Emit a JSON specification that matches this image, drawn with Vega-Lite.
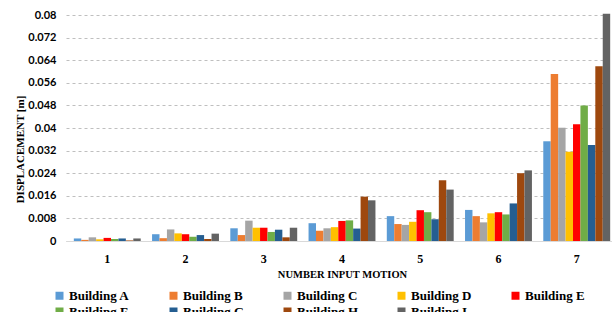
{
  "$schema": "https://vega.github.io/schema/vega-lite/v6.json",
  "autosize": {"type": "none"},
  "width": 546,
  "height": 226,
  "padding": {"left": 66, "top": 15, "right": 0, "bottom": 71},
  "background": "white",
  "data": {
    "values": [
      {"motion": "1", "building": "Building A", "d": 0.0009},
      {"motion": "1", "building": "Building B", "d": 0.0004},
      {"motion": "1", "building": "Building C", "d": 0.0013},
      {"motion": "1", "building": "Building D", "d": 0.0006},
      {"motion": "1", "building": "Building E", "d": 0.0011},
      {"motion": "1", "building": "Building F", "d": 0.0007},
      {"motion": "1", "building": "Building G", "d": 0.0009},
      {"motion": "1", "building": "Building H", "d": 0.0002},
      {"motion": "1", "building": "Building I", "d": 0.0009},
      {"motion": "2", "building": "Building A", "d": 0.0024},
      {"motion": "2", "building": "Building B", "d": 0.0010},
      {"motion": "2", "building": "Building C", "d": 0.0041},
      {"motion": "2", "building": "Building D", "d": 0.0027},
      {"motion": "2", "building": "Building E", "d": 0.0024},
      {"motion": "2", "building": "Building F", "d": 0.0015},
      {"motion": "2", "building": "Building G", "d": 0.0021},
      {"motion": "2", "building": "Building H", "d": 0.0007},
      {"motion": "2", "building": "Building I", "d": 0.0026},
      {"motion": "3", "building": "Building A", "d": 0.0045},
      {"motion": "3", "building": "Building B", "d": 0.0021},
      {"motion": "3", "building": "Building C", "d": 0.0072},
      {"motion": "3", "building": "Building D", "d": 0.0047},
      {"motion": "3", "building": "Building E", "d": 0.0047},
      {"motion": "3", "building": "Building F", "d": 0.0032},
      {"motion": "3", "building": "Building G", "d": 0.0040},
      {"motion": "3", "building": "Building H", "d": 0.0013},
      {"motion": "3", "building": "Building I", "d": 0.0047},
      {"motion": "4", "building": "Building A", "d": 0.0063},
      {"motion": "4", "building": "Building B", "d": 0.0036},
      {"motion": "4", "building": "Building C", "d": 0.0045},
      {"motion": "4", "building": "Building D", "d": 0.0049},
      {"motion": "4", "building": "Building E", "d": 0.0071},
      {"motion": "4", "building": "Building F", "d": 0.0073},
      {"motion": "4", "building": "Building G", "d": 0.0044},
      {"motion": "4", "building": "Building H", "d": 0.0157},
      {"motion": "4", "building": "Building I", "d": 0.0144},
      {"motion": "5", "building": "Building A", "d": 0.0088},
      {"motion": "5", "building": "Building B", "d": 0.0060},
      {"motion": "5", "building": "Building C", "d": 0.0057},
      {"motion": "5", "building": "Building D", "d": 0.0068},
      {"motion": "5", "building": "Building E", "d": 0.0109},
      {"motion": "5", "building": "Building F", "d": 0.0102},
      {"motion": "5", "building": "Building G", "d": 0.0077},
      {"motion": "5", "building": "Building H", "d": 0.0215},
      {"motion": "5", "building": "Building I", "d": 0.0182},
      {"motion": "6", "building": "Building A", "d": 0.0110},
      {"motion": "6", "building": "Building B", "d": 0.0088},
      {"motion": "6", "building": "Building C", "d": 0.0066},
      {"motion": "6", "building": "Building D", "d": 0.0098},
      {"motion": "6", "building": "Building E", "d": 0.0102},
      {"motion": "6", "building": "Building F", "d": 0.0094},
      {"motion": "6", "building": "Building G", "d": 0.0133},
      {"motion": "6", "building": "Building H", "d": 0.0240},
      {"motion": "6", "building": "Building I", "d": 0.0250},
      {"motion": "7", "building": "Building A", "d": 0.0353},
      {"motion": "7", "building": "Building B", "d": 0.0591},
      {"motion": "7", "building": "Building C", "d": 0.0401},
      {"motion": "7", "building": "Building D", "d": 0.0316},
      {"motion": "7", "building": "Building E", "d": 0.0413},
      {"motion": "7", "building": "Building F", "d": 0.0480},
      {"motion": "7", "building": "Building G", "d": 0.0340},
      {"motion": "7", "building": "Building H", "d": 0.0619},
      {"motion": "7", "building": "Building I", "d": 0.0804}
    ]
  },
  "mark": {"type": "bar"},
  "encoding": {
    "x": {
      "field": "motion",
      "type": "nominal",
      "scale": {"range": [0, 552], "paddingInner": 0.145, "paddingOuter": 0.1},
      "axis": {
        "title": "NUMBER INPUT MOTION",
        "labelAngle": 0,
        "labelFont": "Liberation Serif",
        "labelFontWeight": "bold",
        "labelFontSize": 12,
        "labelColor": "#000000",
        "labelPadding": 12,
        "ticks": false,
        "domainColor": "#D9D9D9",
        "domainWidth": 1,
        "titleFont": "Liberation Serif",
        "titleFontWeight": "bold",
        "titleFontSize": 10.5,
        "titleColor": "#000000",
        "titleX": 276,
        "titlePadding": 5
      }
    },
    "xOffset": {
      "field": "building",
      "type": "nominal",
      "scale": {"paddingInner": 0, "paddingOuter": 0}
    },
    "y": {
      "field": "d",
      "type": "quantitative",
      "scale": {"domain": [0, 0.08], "nice": false},
      "axis": {
        "title": "DISPLACEMENT [m]",
        "values": [0, 0.008, 0.016, 0.024, 0.032, 0.04, 0.048, 0.056, 0.064, 0.072, 0.08],
        "format": ".3~f",
        "labelFont": "Lato",
        "labelFontWeight": "bold",
        "labelFontSize": 11,
        "labelColor": "#000000",
        "labelPadding": 10,
        "ticks": false,
        "domain": false,
        "grid": true,
        "gridColor": "#BFBFBF",
        "gridDash": [3, 3],
        "gridWidth": 1,
        "titleFont": "Liberation Serif",
        "titleFontWeight": "bold",
        "titleFontSize": 11,
        "titleColor": "#000000",
        "titleX": -46,
        "titleY": 134,
        "titleBaseline": "middle",
        "titleAlign": "center",
        "titleAngle": -90
      }
    },
    "color": {
      "field": "building",
      "type": "nominal",
      "scale": {
        "domain": ["Building A", "Building B", "Building C", "Building D", "Building E", "Building F", "Building G", "Building H", "Building I"],
        "range": ["#5B9BD5", "#ED7D31", "#A5A5A5", "#FFC000", "#FF0000", "#70AD47", "#255E91", "#9E480E", "#636363"]
      },
      "legend": {
        "title": null,
        "orient": "none",
        "direction": "horizontal",
        "legendX": -13,
        "legendY": 274,
        "columns": 5,
        "gridAlign": "all",
        "columnPadding": 36,
        "rowPadding": 2,
        "symbolType": "square",
        "symbolSize": 64,
        "symbolStrokeWidth": 0,
        "labelOffset": 3,
        "labelFont": "Liberation Serif",
        "labelFontWeight": "bold",
        "labelFontSize": 13,
        "labelColor": "#000000"
      }
    }
  },
  "config": {"view": {"stroke": null}}
}
